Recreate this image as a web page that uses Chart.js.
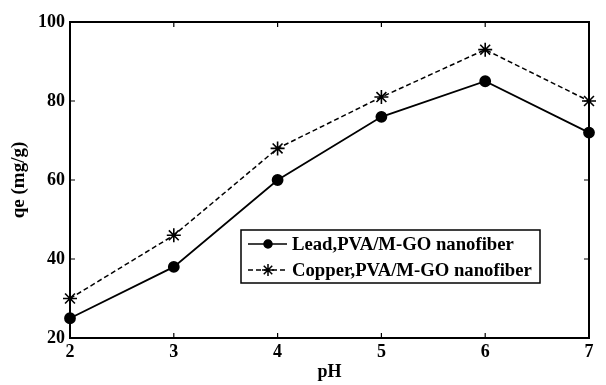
<!DOCTYPE html>
<html>
<head>
<meta charset="utf-8">
<script src="https://cdn.jsdelivr.net/npm/chart.js@4"></script>
<style>
  html, body { margin: 0; padding: 0; background: #fff; }
  #wrap { width: 606px; height: 385px; }
</style>
</head>
<body>
<div id="wrap"><canvas id="phChart" width="606" height="385"></canvas></div>
<script>
const phValues = [2, 3, 4, 5, 6, 7];
const leadValues = [25, 38, 60, 76, 85, 72];
const copperValues = [30, 46, 68, 81, 93, 80];
const seriesNames = ['Lead,PVA/M-GO nanofiber', 'Copper,PVA/M-GO nanofiber'];
const yTicks = [20, 40, 60, 80, 100];

const FONT = '"Liberation Serif", "Times New Roman", serif';

// frame, inward ticks on all four sides, and the boxed legend
const framePlugin = {
    id: 'frame',
    beforeDatasetsDraw(chart) {
        const { ctx, chartArea: a, scales } = chart;
        ctx.save();
        ctx.strokeStyle = '#000';
        ctx.lineWidth = 2;
        ctx.strokeRect(a.left, a.top, a.right - a.left, a.bottom - a.top);
        ctx.lineWidth = 1.2;
        ctx.beginPath();
        phValues.forEach(v => {
            const x = scales.x.getPixelForValue(v);
            ctx.moveTo(x, a.bottom); ctx.lineTo(x, a.bottom - 5);
            ctx.moveTo(x, a.top); ctx.lineTo(x, a.top + 5);
        });
        yTicks.forEach(v => {
            const y = scales.y.getPixelForValue(v);
            ctx.moveTo(a.left, y); ctx.lineTo(a.left + 5, y);
            ctx.moveTo(a.right, y); ctx.lineTo(a.right - 5, y);
        });
        ctx.stroke();
        ctx.restore();
    },
    afterDraw(chart) {
        const ctx = chart.ctx;
        ctx.save();
        const bx = 241, by = 230, bw = 299, bh = 53;
        ctx.fillStyle = '#fff';
        ctx.fillRect(bx, by, bw, bh);
        ctx.strokeStyle = '#000';
        ctx.lineWidth = 1.5;
        ctx.strokeRect(bx, by, bw, bh);
        ctx.font = 'bold 18.7px ' + FONT;
        ctx.textBaseline = 'middle';
        chart.data.datasets.forEach((ds, i) => {
            const y = by + 14 + i * 26;
            ctx.strokeStyle = '#000';
            ctx.lineWidth = 1.5;
            ctx.setLineDash(ds.borderDash || []);
            ctx.beginPath();
            ctx.moveTo(bx + 7, y); ctx.lineTo(bx + 46, y);
            ctx.stroke();
            ctx.setLineDash([]);
            ctx.fillStyle = '#000';
            Chart.helpers.drawPoint(ctx, {
                pointStyle: ds.pointStyle,
                radius: ds.pointRadius - 1,
                borderWidth: 1.5
            }, bx + 27, y);
            ctx.fillStyle = '#000';
            ctx.fillText(ds.label, bx + 51, y + 1);
        });
        ctx.restore();
    }
};

new Chart(document.getElementById('phChart'), {
    type: 'line',
    data: {
        datasets: [{
            label: seriesNames[0],
            data: phValues.map((x, i) => ({ x: x, y: leadValues[i] })),
            borderColor: '#000',
            backgroundColor: '#000',
            borderWidth: 1.8,
            pointStyle: 'circle',
            pointRadius: 5,
            pointBorderColor: '#000',
            pointBackgroundColor: '#000',
            clip: false
        }, {
            label: seriesNames[1],
            data: phValues.map((x, i) => ({ x: x, y: copperValues[i] })),
            borderColor: '#000',
            backgroundColor: '#000',
            borderWidth: 1.5,
            borderDash: [5, 3],
            pointStyle: 'star',
            pointRadius: 7,
            pointBorderWidth: 1.6,
            pointBorderColor: '#000',
            clip: false
        }]
    },
    options: {
        responsive: false,
        animation: false,
        layout: { padding: { left: 0, top: 22, right: 17, bottom: 0 } },
        plugins: {
            legend: { display: false },
            tooltip: { enabled: false }
        },
        scales: {
            x: {
                type: 'linear',
                min: 2,
                max: 7,
                afterFit(scale) { scale.height = 47; },
                afterBuildTicks(scale) { scale.ticks = phValues.map(v => ({ value: v })); },
                grid: { display: false, drawTicks: false },
                border: { display: false },
                ticks: {
                    color: '#000',
                    padding: 4,
                    font: { family: FONT, size: 18, weight: 'bold' }
                },
                title: {
                    display: true,
                    text: 'pH',
                    color: '#000',
                    padding: { top: 0, bottom: 2 },
                    font: { family: FONT, size: 18, weight: 'bold' }
                }
            },
            y: {
                min: 20,
                max: 100,
                afterFit(scale) { scale.width = 70; },
                afterBuildTicks(scale) { scale.ticks = yTicks.map(v => ({ value: v })); },
                grid: { display: false, drawTicks: false },
                border: { display: false },
                ticks: {
                    color: '#000',
                    padding: 5,
                    font: { family: FONT, size: 18, weight: 'bold' }
                },
                title: {
                    display: true,
                    text: 'qe (mg/g)',
                    color: '#000',
                    padding: { bottom: 0, top: 8 },
                    font: { family: FONT, size: 19, weight: 'bold' }
                }
            }
        }
    },
    plugins: [framePlugin]
});
</script>
</body>
</html>
